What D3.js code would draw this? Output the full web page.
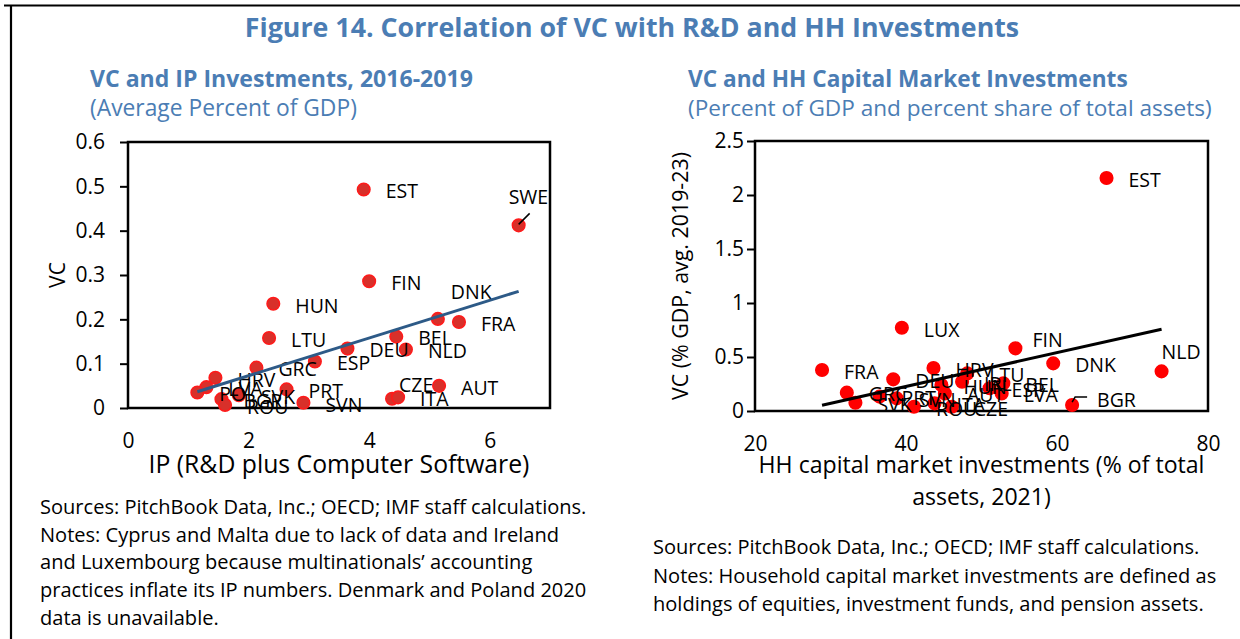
<!DOCTYPE html>
<html>
<head>
<meta charset="utf-8">
<script src="https://cdn.jsdelivr.net/npm/d3@7"></script>
<style>
  body { margin: 0; background: #fff; }
  text { font-family: "Open Sans", "Noto Sans", sans-serif; }
</style>
</head>
<body>
<script>
const w = 1240;
const h = 639;

// left panel: VC vs IP investment, avg % of GDP 2016-2019
const ipCountries = ["EST", "SWE", "FIN", "HUN", "LTU", "DNK", "FRA", "BEL", "NLD", "DEU", "ESP", "GRC",
                     "HRV", "LVA", "POL", "BGR", "ROU", "SVK", "PRT", "SVN", "CZE", "ITA", "AUT"];
const ipInvest = [3.91, 6.48, 4.00, 2.41, 2.34, 5.14, 5.49, 4.45, 4.61, 3.64, 3.10, 2.13,
                  1.45, 1.30, 1.15, 1.55, 1.61, 1.84, 2.63, 2.91, 4.38, 4.48, 5.16];
const ipVC = [0.493, 0.412, 0.286, 0.235, 0.158, 0.201, 0.194, 0.161, 0.132, 0.134, 0.105, 0.091,
              0.068, 0.047, 0.035, 0.020, 0.007, 0.029, 0.042, 0.012, 0.021, 0.024, 0.050];

// right panel: VC vs household capital market investments
const hhCountries = ["EST", "LUX", "FIN", "DNK", "NLD", "FRA", "HRV", "DEU", "LTU", "GRC", "SVK", "HUN",
                     "AUT", "IRL", "ESP", "BEL", "LVA", "BGR", "PRT", "SVN", "ROU", "ITA", "CZE"];
const hhShare = [66.56, 39.45, 54.49, 59.50, 73.85, 28.88, 43.64, 38.31, 48.11, 32.16, 33.30, 44.69,
                 45.15, 47.43, 51.07, 52.89, 52.67, 62.00, 36.49, 38.77, 41.05, 43.78, 46.06];
const hhVC = [2.158, 0.771, 0.580, 0.441, 0.367, 0.379, 0.398, 0.293, 0.348, 0.170, 0.077, 0.240,
              0.163, 0.271, 0.210, 0.256, 0.163, 0.055, 0.133, 0.117, 0.040, 0.071, 0.040];

const ipXTicks = [0, 2, 4, 6];
const ipYTicks = [0, 0.1, 0.2, 0.3, 0.4, 0.5, 0.6];
const hhXTicks = [20, 40, 60, 80];
const hhYTicks = [0, 0.5, 1, 1.5, 2, 2.5];

// data labels that were dragged off their default spot (px)
const ipNudge = { DNK: [-9, -29], CZE: [-15, -16], SWE: [-32, -30] };
const hhNudge = { FIN: [-5, -10], NLD: [-22, -21], BGR: [3, -7] };
const ipLeader = { SWE: [[0, -1], [11, -12]] };
const hhLeader = { BGR: [[0, -3], [3, -8], [15, -8]] };

const blue = "#4b7db4";

let svg = d3.select("body")
            .append("svg")
            .attr("width", w)
            .attr("height", h);

// squeeze or stretch font size so text takes a given width
function fit(t, width) {
  let len = t.node().getComputedTextLength();
  let fs = parseFloat(t.attr("font-size"));
  t.attr("font-size", fs * width / len);
  return fs * width / len;
}

// frame lines
svg.append("line").attr("x1", 4).attr("x2", w).attr("y1", 5.5).attr("y2", 5.5)
   .attr("stroke", "#000").attr("stroke-width", 2.2);
svg.append("line").attr("x1", 11).attr("x2", 11).attr("y1", 5).attr("y2", h)
   .attr("stroke", "#000").attr("stroke-width", 2.2);

let title = svg.append("text")
   .attr("x", 632).attr("y", 37)
   .attr("text-anchor", "middle")
   .attr("font-size", 24).attr("font-weight", "bold")
   .attr("fill", blue)
   .text("Figure 14. Correlation of VC with R&D and HH Investments");
fit(title, 775);

function panel(cfg) {
  let g = svg.append("g");

  let x = d3.scaleLinear().domain(cfg.xDomain).range([cfg.left, cfg.right]);
  let y = d3.scaleLinear().domain(cfg.yDomain).range([cfg.bottom, cfg.top]);

  let st = g.append("text")
    .attr("x", cfg.left - cfg.subIndent).attr("y", 87)
    .attr("font-size", 20).attr("font-weight", "bold").attr("fill", blue)
    .text(cfg.sub1);
  fit(st, cfg.sub1W);
  let st2 = g.append("text")
    .attr("x", cfg.left - cfg.subIndent).attr("y", 116)
    .attr("font-size", 20).attr("fill", blue)
    .text(cfg.sub2);
  fit(st2, cfg.sub2W);

  // y axis
  let yAxis = g.append("g")
    .attr("transform", `translate(${cfg.left},0)`)
    .call(d3.axisLeft(y).tickValues(cfg.yTicks).tickSize(8).tickPadding(cfg.yPad)
            .tickFormat(d3.format("")));
  yAxis.select(".domain").remove();
  yAxis.selectAll("line").attr("stroke", "#000").attr("stroke-width", 2);
  yAxis.selectAll("text").attr("font-size", 21).attr("fill", "#000")
       .attr("font-family", "'Open Sans', sans-serif");

  let xAxis = g.append("g")
    .attr("transform", `translate(0,${cfg.bottom})`)
    .call(d3.axisBottom(x).tickValues(cfg.xTicks).tickSize(0).tickPadding(25)
            .tickFormat(d3.format("")));
  xAxis.select(".domain").remove();
  xAxis.selectAll("text").attr("font-size", 21).attr("fill", "#000")
       .attr("font-family", "'Open Sans', sans-serif");

  // plot box
  g.append("rect")
   .attr("x", cfg.left).attr("y", cfg.top)
   .attr("width", cfg.right - cfg.left).attr("height", cfg.bottom - cfg.top)
   .attr("fill", "none").attr("stroke", "#000").attr("stroke-width", 2.5);

  let pts = cfg.names.map((n, i) => ({ name: n, x: cfg.xs[i], y: cfg.ys[i] }));

  g.selectAll("circle.pt")
   .data(pts)
   .enter()
   .append("circle")
   .attr("class", "pt")
   .attr("cx", d => x(d.x))
   .attr("cy", d => y(d.y))
   .attr("r", 6.3)
   .attr("fill", cfg.dotFill)
   .attr("stroke", cfg.dotStroke)
   .attr("stroke-width", 1.5);

  // leader lines for dragged labels
  Object.keys(cfg.leaders).forEach(k => {
    let d = pts.find(p => p.name == k);
    let px = x(d.x), py = y(d.y);
    g.append("path")
     .attr("d", d3.line()(cfg.leaders[k].map(o => [px + o[0], py + o[1]])))
     .attr("fill", "none").attr("stroke", "#000").attr("stroke-width", 1.5);
  });

  g.selectAll("text.lbl")
   .data(pts)
   .enter()
   .append("text")
   .attr("class", "lbl")
   .attr("x", d => x(d.x) + 22 + (cfg.nudge[d.name] ? cfg.nudge[d.name][0] : 0))
   .attr("y", d => y(d.y) + 2 + (cfg.nudge[d.name] ? cfg.nudge[d.name][1] : 0))
   .attr("dy", "0.35em")
   .attr("font-size", 19.5)
   .attr("fill", "#000")
   .text(d => d.name);

  // linear trend, least squares over the plotted points
  let mx = d3.mean(cfg.xs), my = d3.mean(cfg.ys);
  let sxy = d3.sum(cfg.xs, (v, i) => (v - mx) * (cfg.ys[i] - my));
  let sxx = d3.sum(cfg.xs, v => (v - mx) * (v - mx));
  let b = sxy / sxx, a = my - b * mx;
  let ext = d3.extent(cfg.xs);
  g.append("line")
   .attr("x1", x(ext[0])).attr("y1", y(a + b * ext[0]))
   .attr("x2", x(ext[1])).attr("y2", y(a + b * ext[1]))
   .attr("stroke", cfg.trendColor).attr("stroke-width", 3);

  // axis titles
  let cx = (cfg.left + cfg.right) / 2;
  let tfs = 20;
  cfg.xTitle.forEach((s, i) => {
    let t = g.append("text")
      .attr("x", cx).attr("y", 473 + i * 32)
      .attr("text-anchor", "middle")
      .attr("font-size", tfs).attr("fill", "#000")
      .text(s);
    if (i == 0) tfs = fit(t, cfg.xTitleW);
  });
  let cy = (cfg.top + cfg.bottom) / 2;
  let yt = g.append("text")
    .attr("transform", `translate(${cfg.yTitleX},${cy}) rotate(-90)`)
    .attr("text-anchor", "middle")
    .attr("dy", "0.35em")
    .attr("font-size", 21).attr("fill", "#000")
    .text(cfg.yTitle);
  if (cfg.yTitleW) fit(yt, cfg.yTitleW);

  // sources / notes
  let fs = 17;
  cfg.notes.forEach((s, i) => {
    let t = g.append("text")
      .attr("x", cfg.noteX).attr("y", cfg.noteY + i * cfg.noteStep)
      .attr("font-size", fs).attr("fill", "#000")
      .text(s);
    if (i == 0) fs = fit(t, cfg.noteW);
  });
}

panel({
  left: 128, right: 550, top: 142, bottom: 408,
  xDomain: [0, 7], yDomain: [0, 0.6],
  xTicks: ipXTicks, yTicks: ipYTicks, yPad: 15,
  names: ipCountries, xs: ipInvest, ys: ipVC,
  nudge: ipNudge, leaders: ipLeader,
  dotFill: "#d8302a", dotStroke: "#ff1a1a", trendColor: "#2d5a87",
  subIndent: 38,
  sub1: "VC and IP Investments, 2016-2019", sub1W: 383,
  sub2: "(Average Percent of GDP)", sub2W: 267,
  xTitle: ["IP (R&D plus Computer Software)"], xTitleW: 381,
  yTitle: "VC", yTitleX: 58,
  notes: ["Sources: PitchBook Data, Inc.; OECD; IMF staff calculations.",
          "Notes: Cyprus and Malta due to lack of data and Ireland",
          "and Luxembourg because multinationals\u2019 accounting",
          "practices inflate its IP numbers. Denmark and Poland 2020",
          "data is unavailable."],
  noteX: 40, noteY: 514, noteStep: 27.7, noteW: 547
});

panel({
  left: 755, right: 1208, top: 141, bottom: 411,
  xDomain: [20, 80], yDomain: [0, 2.5],
  xTicks: hhXTicks, yTicks: hhYTicks, yPad: 3,
  names: hhCountries, xs: hhShare, ys: hhVC,
  nudge: hhNudge, leaders: hhLeader,
  dotFill: "#ff0000", dotStroke: "#ff0000", trendColor: "#000",
  subIndent: 67,
  sub1: "VC and HH Capital Market Investments", sub1W: 440,
  sub2: "(Percent of GDP and percent share of total assets)", sub2W: 524,
  xTitle: ["HH capital market investments (% of total", "assets, 2021)"], xTitleW: 446,
  yTitle: "VC (% GDP, avg. 2019-23)", yTitleX: 681, yTitleW: 248,
  notes: ["Sources: PitchBook Data, Inc.; OECD; IMF staff calculations.",
          "Notes: Household capital market investments are defined as",
          "holdings of equities, investment funds, and pension assets."],
  noteX: 653, noteY: 554, noteStep: 28.5, noteW: 547
});
</script>
</body>
</html>
